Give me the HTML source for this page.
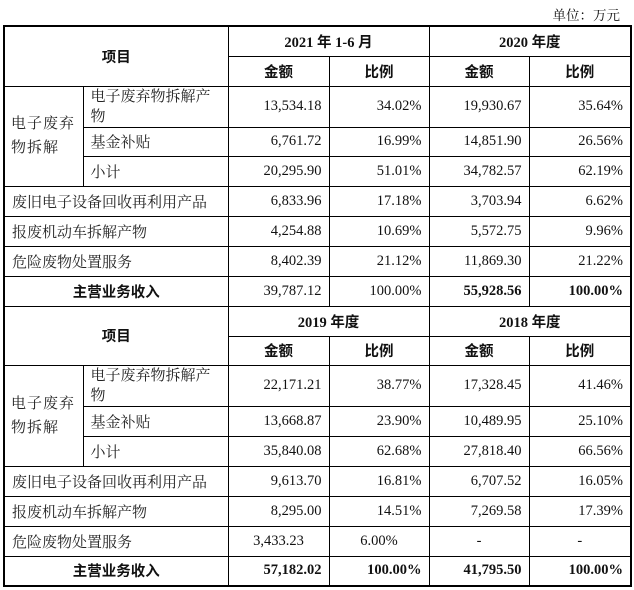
<!DOCTYPE html>
<html><head><meta charset="utf-8"><style>
body{margin:0;width:634px;height:590px;background:#fff;position:relative;overflow:hidden;font-family:"Liberation Serif","Noto Serif CJK SC",serif;color:#111}
.unit{position:absolute;right:14px;top:4px;font-size:13.5px;font-family:"Liberation Serif","Noto Serif CJK SC",serif}
table{position:absolute;left:3px;top:25px;border-collapse:collapse;table-layout:fixed;border:2.5px solid #000;font-size:14.5px}
td{border:1px solid #000;padding:0 7px;white-space:nowrap;overflow:hidden}
.r{text-align:right}.c{text-align:center}
.b{font-weight:bold}
.cj{font-family:"Liberation Serif","Noto Serif CJK SC",serif;font-size:15px;color:#222}
.h{font-family:"Liberation Serif","Noto Sans CJK SC",sans-serif;font-weight:bold;text-align:center}
.wrap{white-space:normal;line-height:20px}
.cat{white-space:normal;letter-spacing:1px;line-height:24px;padding-left:6px;padding-right:2px}
</style></head><body>
<div class="unit">单位：万元</div>
<table>
<colgroup><col style="width:79px"><col style="width:145px"><col style="width:101px"><col style="width:100px"><col style="width:100px"><col style="width:102px"></colgroup>
<tr style="height:30px"><td colspan="2" rowspan="2" class="h">项目</td><td colspan="2" class="h">2021 年 1-6 月</td><td colspan="2" class="h">2020 年度</td></tr>
<tr style="height:30px"><td class="h">金额</td><td class="h">比例</td><td class="h">金额</td><td class="h">比例</td></tr>
<tr style="height:40px"><td rowspan="3" class="cj cat">电子废弃物拆解</td><td class="cj wrap">电子废弃物拆解产物</td><td class="r">13,534.18</td><td class="r">34.02%</td><td class="r">19,930.67</td><td class="r">35.64%</td></tr>
<tr style="height:29px"><td class="cj">基金补贴</td><td class="r">6,761.72</td><td class="r">16.99%</td><td class="r">14,851.90</td><td class="r">26.56%</td></tr>
<tr style="height:30px"><td class="cj">小计</td><td class="r">20,295.90</td><td class="r">51.01%</td><td class="r">34,782.57</td><td class="r">62.19%</td></tr>
<tr style="height:30px"><td colspan="2" class="cj">废旧电子设备回收再利用产品</td><td class="r">6,833.96</td><td class="r">17.18%</td><td class="r">3,703.94</td><td class="r">6.62%</td></tr>
<tr style="height:30px"><td colspan="2" class="cj">报废机动车拆解产物</td><td class="r">4,254.88</td><td class="r">10.69%</td><td class="r">5,572.75</td><td class="r">9.96%</td></tr>
<tr style="height:30px"><td colspan="2" class="cj">危险废物处置服务</td><td class="r">8,402.39</td><td class="r">21.12%</td><td class="r">11,869.30</td><td class="r">21.22%</td></tr>
<tr style="height:30px"><td colspan="2" class="h">主营业务收入</td><td class="r">39,787.12</td><td class="r">100.00%</td><td class="r b">55,928.56</td><td class="r b">100.00%</td></tr>
<tr style="height:30px"><td colspan="2" rowspan="2" class="h">项目</td><td colspan="2" class="h">2019 年度</td><td colspan="2" class="h">2018 年度</td></tr>
<tr style="height:29px"><td class="h">金额</td><td class="h">比例</td><td class="h">金额</td><td class="h">比例</td></tr>
<tr style="height:41px"><td rowspan="3" class="cj cat">电子废弃物拆解</td><td class="cj wrap">电子废弃物拆解产物</td><td class="r">22,171.21</td><td class="r">38.77%</td><td class="r">17,328.45</td><td class="r">41.46%</td></tr>
<tr style="height:30px"><td class="cj">基金补贴</td><td class="r">13,668.87</td><td class="r">23.90%</td><td class="r">10,489.95</td><td class="r">25.10%</td></tr>
<tr style="height:30px"><td class="cj">小计</td><td class="r">35,840.08</td><td class="r">62.68%</td><td class="r">27,818.40</td><td class="r">66.56%</td></tr>
<tr style="height:30px"><td colspan="2" class="cj">废旧电子设备回收再利用产品</td><td class="r">9,613.70</td><td class="r">16.81%</td><td class="r">6,707.52</td><td class="r">16.05%</td></tr>
<tr style="height:30px"><td colspan="2" class="cj">报废机动车拆解产物</td><td class="r">8,295.00</td><td class="r">14.51%</td><td class="r">7,269.58</td><td class="r">17.39%</td></tr>
<tr style="height:30px"><td colspan="2" class="cj">危险废物处置服务</td><td class="c">3,433.23</td><td class="c">6.00%</td><td class="c">-</td><td class="c">-</td></tr>
<tr style="height:30px"><td colspan="2" class="h">主营业务收入</td><td class="r b">57,182.02</td><td class="r b">100.00%</td><td class="r b">41,795.50</td><td class="r b">100.00%</td></tr>
</table>
</body></html>
